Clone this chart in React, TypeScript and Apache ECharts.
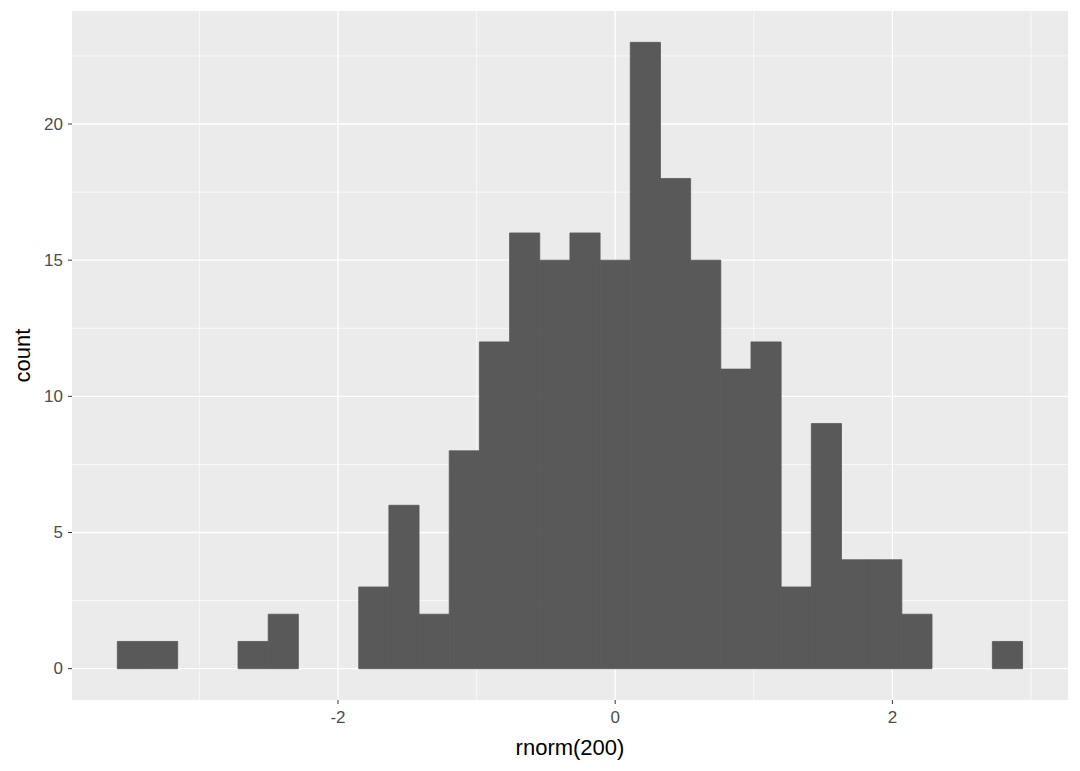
import React, { useEffect, useRef } from "react";
import * as echarts from "echarts";

// Histogram of rnorm(200), 30 bins
const binStart = -3.592;
const binWidth = 0.2177;
const counts = [1, 1, 0, 0, 1, 2, 0, 0, 3, 6, 2, 8, 12, 16, 15, 16, 15, 23, 18, 15, 11, 12, 3, 9, 4, 4, 2, 0, 0, 1];

const xTicks = [-2, 0, 2];
const xMinor = [-3, -1, 1, 3];
const yTicks = [0, 5, 10, 15, 20];
const yMinor = [2.5, 7.5, 12.5, 17.5, 22.5];

const xRange = [-3.919, 3.267];
const yRange = [-1.15, 24.15];

const FONT = "'Liberation Sans', Arial, sans-serif";

export default function App() {
  const ref = useRef<HTMLDivElement>(null);
  useEffect(() => {
    if (!ref.current) return;
    const chart = echarts.init(ref.current, null, { renderer: "svg" });

    const bars = counts.map((c, i) => [binStart + i * binWidth, binStart + (i + 1) * binWidth, c]);
    const gridData: any[] = [];
    xTicks.forEach((v) => gridData.push([v, "x", 1]));
    xMinor.forEach((v) => gridData.push([v, "x", 0]));
    yTicks.forEach((v) => gridData.push([v, "y", 1]));
    yMinor.forEach((v) => gridData.push([v, "y", 0]));

    chart.setOption({
      animation: false,
      backgroundColor: "#ffffff",
      grid: {
        left: 72,
        right: 12,
        top: 11,
        bottom: 71,
        show: true,
        backgroundColor: "#EBEBEB",
        borderWidth: 0,
      },
      xAxis: {
        type: "value",
        min: xRange[0],
        max: xRange[1],
        name: "rnorm(200)",
        nameLocation: "middle",
        nameGap: 36,
        nameTextStyle: { color: "#000000", fontSize: 22, fontFamily: FONT },
        axisLine: { show: false },
        axisTick: { show: false },
        axisLabel: {
          customValues: xTicks,
          color: "#4D4D4D",
          fontSize: 17,
          fontFamily: FONT,
          margin: 9,
        },
        splitLine: { show: false },
      },
      yAxis: {
        type: "value",
        min: yRange[0],
        max: yRange[1],
        name: "count",
        nameLocation: "middle",
        nameGap: 38,
        nameTextStyle: { color: "#000000", fontSize: 22, fontFamily: FONT },
        axisLine: { show: false },
        axisTick: { show: false },
        axisLabel: {
          customValues: yTicks,
          color: "#4D4D4D",
          fontSize: 17,
          fontFamily: FONT,
          margin: 9,
        },
        splitLine: { show: false },
      },
      series: [
        {
          type: "custom",
          z: 1,
          silent: true,
          clip: false,
          data: gridData,
          renderItem: (params: any, api: any) => {
            const v = api.value(0);
            const axis = gridData[params.dataIndex][1];
            const major = gridData[params.dataIndex][2] === 1;
            const cs = params.coordSys;
            const children: any[] = [];
            if (axis === "x") {
              const p = api.coord([v, 0]);
              children.push({
                type: "line",
                shape: { x1: p[0], y1: cs.y, x2: p[0], y2: cs.y + cs.height },
                style: { stroke: "#ffffff", lineWidth: major ? 1.3 : 0.65 },
              });
              if (major) {
                children.push({
                  type: "line",
                  shape: { x1: p[0], y1: cs.y + cs.height, x2: p[0], y2: cs.y + cs.height + 4 },
                  style: { stroke: "#333333", lineWidth: 1 },
                });
              }
            } else {
              const p = api.coord([0, v]);
              children.push({
                type: "line",
                shape: { x1: cs.x, y1: p[1], x2: cs.x + cs.width, y2: p[1] },
                style: { stroke: "#ffffff", lineWidth: major ? 1.3 : 0.65 },
              });
              if (major) {
                children.push({
                  type: "line",
                  shape: { x1: cs.x - 4, y1: p[1], x2: cs.x, y2: p[1] },
                  style: { stroke: "#333333", lineWidth: 1 },
                });
              }
            }
            return { type: "group", children };
          },
          encode: { x: 0, y: 0 },
        },
        {
          type: "custom",
          z: 2,
          silent: true,
          data: bars,
          renderItem: (params: any, api: any) => {
            const x0 = api.value(0);
            const x1 = api.value(1);
            const c = api.value(2);
            if (!c) return null;
            const a = api.coord([x0, 0]);
            const b = api.coord([x1, c]);
            return {
              type: "rect",
              shape: { x: a[0], y: b[1], width: b[0] - a[0], height: a[1] - b[1] },
              style: { fill: "#595959", stroke: "#595959", lineWidth: 0.8 },
            };
          },
          encode: { x: [0, 1], y: 2 },
        },
      ],
    });
    return () => chart.dispose();
  }, []);

  return (
    <div
      ref={ref}
      style={{ position: "fixed", left: 0, top: 0, width: 1080, height: 771, background: "#ffffff" }}
    />
  );
}
